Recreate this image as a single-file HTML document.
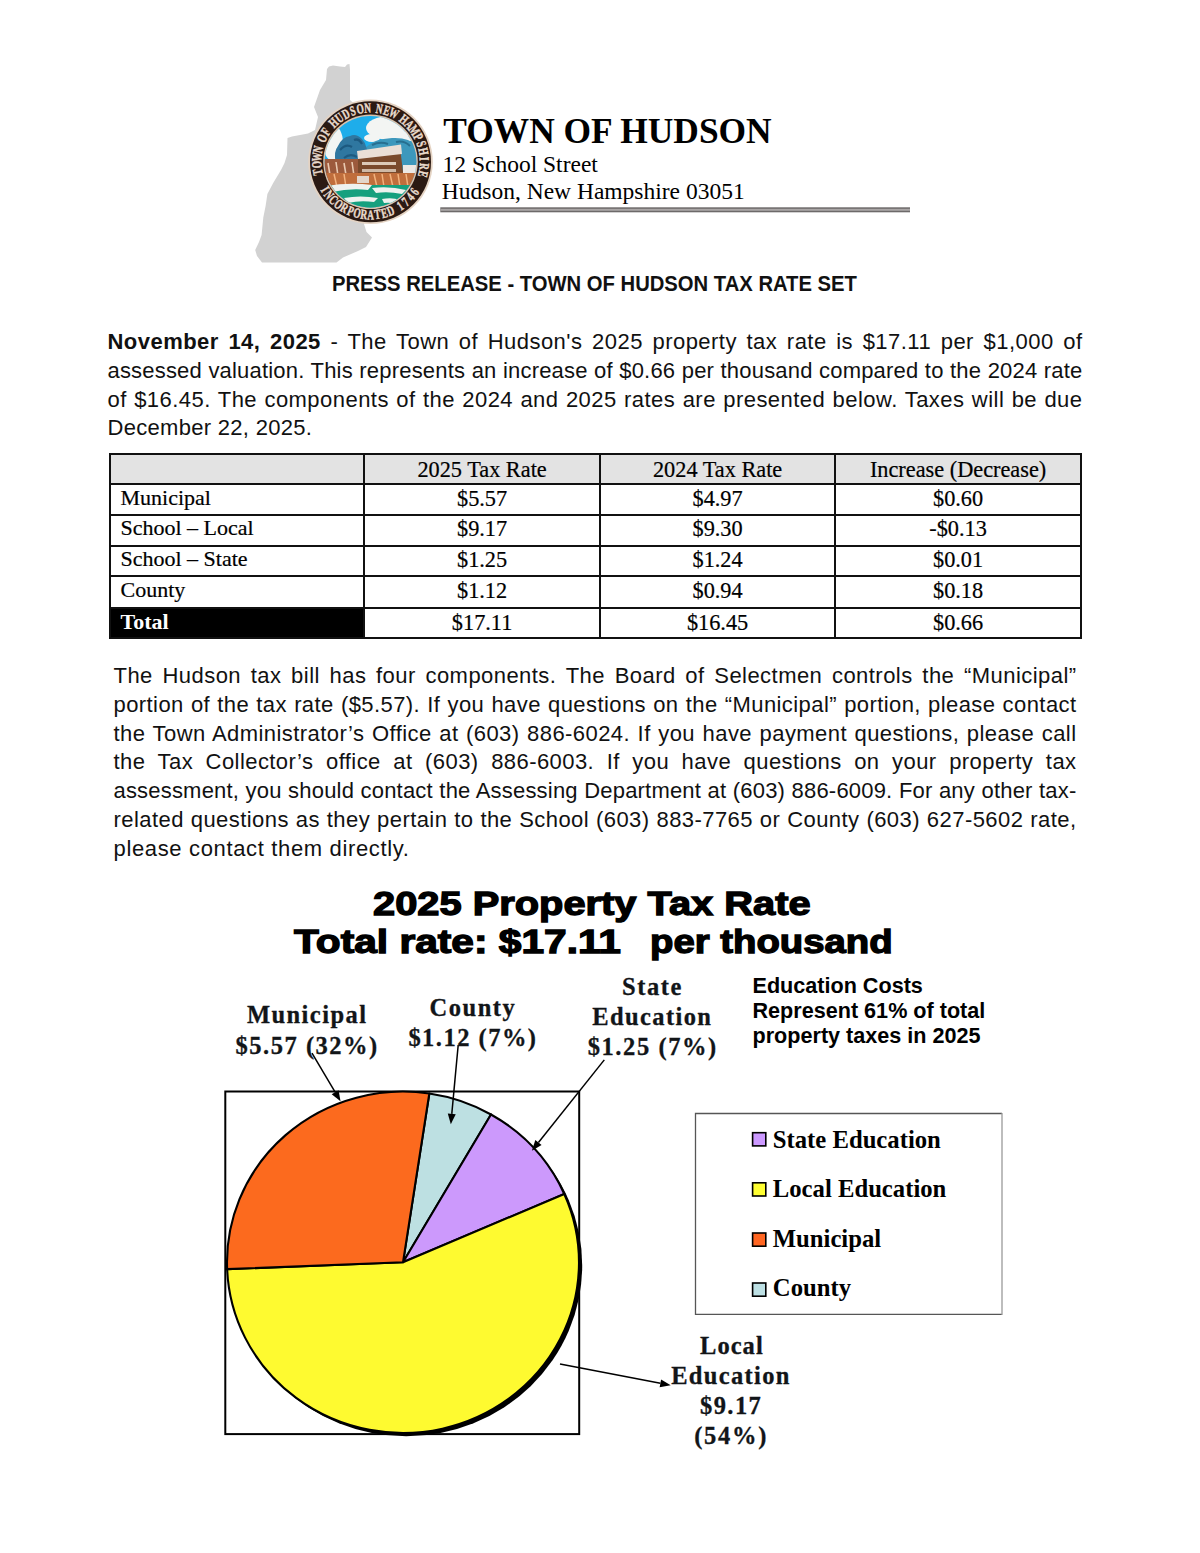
<!DOCTYPE html>
<html><head><meta charset="utf-8"><title>Town of Hudson Press Release</title>
<style>
html,body{margin:0;padding:0;background:#fff;}
body{width:1200px;height:1553px;position:relative;overflow:hidden;}
.t{position:absolute;white-space:nowrap;}
.b{position:absolute;}
.g{position:absolute;left:0;top:0;}
b{font-weight:700;}
</style></head><body>
<svg class="g" width="1200" height="1553" viewBox="0 0 1200 1553"><polygon fill="#d2d2d2" points="327,69 329,66.5 333,65.5 340,66.5 345,67 347,64.5 349.5,64 350,70 350,100 372,120 372,200 364,224 366.5,232 372,237.5 366,247 358,251 343,257.5 336.5,262.6 262,262.6 257,256 255.2,250 259,242 261.6,235 263.3,217.5 265.6,206 267.4,194 273.2,183 281,170 284.5,163 287,155 287.5,138 292,136.5 308,133.5 315,130 318,117 314,107 320,90 326,80"/><circle cx="370.5" cy="161.8" r="62.3" fill="#e4d3c3"/><circle cx="370.5" cy="161.8" r="60.5" fill="#2b1a13"/><circle cx="370.5" cy="161.8" r="47.3" fill="#d9c2ad"/><clipPath id="sc"><circle cx="370.5" cy="161.8" r="45.8"/></clipPath><g clip-path="url(#sc)"><rect x="320.5" y="111.80000000000001" width="100" height="100" fill="#1eadea"/><ellipse cx="333" cy="143" rx="10" ry="18" fill="#f3f5f3"/><ellipse cx="390" cy="128" rx="24" ry="12" fill="#f3f5f3"/><ellipse cx="372" cy="138" rx="8" ry="4" fill="#f3f5f3"/><ellipse cx="405" cy="137" rx="10" ry="5" fill="#f3f5f3"/><path d="M366 147 Q374 139 392 138 Q410 137 418 147 L418 168 L366 168Z" fill="#3d98bc"/><path d="M372 145 Q380 141 388 144 M396 142 Q404 140 410 146" stroke="#276f90" stroke-width="2" fill="none"/><path d="M336 163 Q333 152 338 146 Q342 137 350 136 Q356 133 362 139 Q369 146 367 164 Z" fill="#2f77a0"/><path d="M340 150 Q346 143 352 147 M354 140 Q359 138 362 144 M344 158 Q350 153 357 157" stroke="#1d5a80" stroke-width="2.2" fill="none"/><rect x="318" y="159" width="42" height="30" fill="#9c5a3c"/><path d="M328 163 L330 175 M336 162 L338 176 M344 163 L346 175 M352 162 L354 176" stroke="#e9c9b0" stroke-width="1.6"/><path d="M358 154 L400 147 L404 180 L358 181Z" fill="#7a4a2c"/><path d="M357 151 L401 144.5 L402 154 L358 159Z" fill="#eadfd6"/><rect x="362" y="162" width="34" height="3" fill="#dccab8"/><rect x="362" y="169" width="34" height="3" fill="#cfb9a6"/><rect x="403" y="165" width="14" height="8" fill="#ece8e4"/><rect x="318" y="173" width="104" height="14" fill="#c06e3c"/><path d="M324 174 L327 187 M334 174 L337 187 M344 174 L346 187 M374 174 L377 187 M382 174 L384 187 M390 174 L393 187 M398 174 L400 187 M406 174 L408 187" stroke="#f2b27e" stroke-width="1.5"/><rect x="357" y="176" width="12" height="7" fill="#e3d6ca"/><rect x="315" y="185" width="110" height="30" fill="#16a07e"/><path d="M326 186 Q350 182 372 185 L368 190 Q350 188 332 192Z" fill="#eef2ef"/><path d="M372 188 Q390 186 406 190 L402 194 Q388 191 376 193Z" fill="#eef2ef"/><path d="M344 198 Q360 195 378 198 L374 202 Q360 200 348 203Z" fill="#eef2ef"/><path d="M382 199 Q392 197 400 200 L396 204 Q390 202 384 203Z" fill="#eef2ef"/></g><g font-family="'Liberation Serif', serif" font-weight="700" font-size="13.8" fill="#e9dbcd" stroke="#e9dbcd" stroke-width="0.45"><text transform="translate(322.11,171.21) rotate(-101.00) scale(0.67,1)" text-anchor="middle">T</text><text transform="translate(321.26,164.30) rotate(-92.90) scale(0.67,1)" text-anchor="middle">O</text><text transform="translate(321.40,157.34) rotate(-84.81) scale(0.67,1)" text-anchor="middle">W</text><text transform="translate(322.52,150.47) rotate(-76.71) scale(0.67,1)" text-anchor="middle">N</text><text transform="translate(326.13,140.32) rotate(-64.17) scale(0.67,1)" text-anchor="middle">O</text><text transform="translate(329.59,134.28) rotate(-56.07) scale(0.67,1)" text-anchor="middle">F</text><text transform="translate(336.55,126.05) rotate(-43.52) scale(0.67,1)" text-anchor="middle">H</text><text transform="translate(341.92,121.63) rotate(-35.43) scale(0.67,1)" text-anchor="middle">U</text><text transform="translate(347.86,118.00) rotate(-27.33) scale(0.67,1)" text-anchor="middle">D</text><text transform="translate(354.26,115.25) rotate(-19.24) scale(0.67,1)" text-anchor="middle">S</text><text transform="translate(360.97,113.43) rotate(-11.14) scale(0.67,1)" text-anchor="middle">O</text><text transform="translate(367.88,112.57) rotate(-3.05) scale(0.67,1)" text-anchor="middle">N</text><text transform="translate(378.64,113.18) rotate(9.50) scale(0.67,1)" text-anchor="middle">N</text><text transform="translate(385.40,114.81) rotate(17.60) scale(0.67,1)" text-anchor="middle">E</text><text transform="translate(391.87,117.37) rotate(25.69) scale(0.67,1)" text-anchor="middle">W</text><text transform="translate(401.01,123.08) rotate(38.24) scale(0.67,1)" text-anchor="middle">H</text><text transform="translate(406.16,127.76) rotate(46.33) scale(0.67,1)" text-anchor="middle">A</text><text transform="translate(410.60,133.12) rotate(54.43) scale(0.67,1)" text-anchor="middle">M</text><text transform="translate(414.24,139.05) rotate(62.52) scale(0.67,1)" text-anchor="middle">P</text><text transform="translate(417.01,145.44) rotate(70.62) scale(0.67,1)" text-anchor="middle">S</text><text transform="translate(418.85,152.15) rotate(78.71) scale(0.67,1)" text-anchor="middle">H</text><text transform="translate(419.72,159.06) rotate(86.81) scale(0.67,1)" text-anchor="middle">I</text><text transform="translate(419.62,166.02) rotate(94.90) scale(0.67,1)" text-anchor="middle">R</text><text transform="translate(418.54,172.89) rotate(103.00) scale(0.67,1)" text-anchor="middle">E</text></g><g font-family="'Liberation Serif', serif" font-weight="700" font-size="13.8" fill="#e9dbcd" stroke="#e9dbcd" stroke-width="0.45"><text transform="translate(321.13,191.47) rotate(59.00) scale(0.67,1)" text-anchor="middle">I</text><text transform="translate(325.36,197.57) rotate(51.60) scale(0.67,1)" text-anchor="middle">N</text><text transform="translate(330.34,203.09) rotate(44.21) scale(0.67,1)" text-anchor="middle">C</text><text transform="translate(335.99,207.91) rotate(36.81) scale(0.67,1)" text-anchor="middle">O</text><text transform="translate(342.21,211.97) rotate(29.42) scale(0.67,1)" text-anchor="middle">R</text><text transform="translate(348.90,215.20) rotate(22.02) scale(0.67,1)" text-anchor="middle">P</text><text transform="translate(355.95,217.53) rotate(14.63) scale(0.67,1)" text-anchor="middle">O</text><text transform="translate(363.25,218.94) rotate(7.23) scale(0.67,1)" text-anchor="middle">R</text><text transform="translate(370.66,219.40) rotate(-0.16) scale(0.67,1)" text-anchor="middle">A</text><text transform="translate(378.08,218.90) rotate(-7.56) scale(0.67,1)" text-anchor="middle">T</text><text transform="translate(385.36,217.45) rotate(-14.95) scale(0.67,1)" text-anchor="middle">E</text><text transform="translate(392.40,215.07) rotate(-22.35) scale(0.67,1)" text-anchor="middle">D</text><text transform="translate(402.55,209.66) rotate(-33.81) scale(0.67,1)" text-anchor="middle">1</text><text transform="translate(408.45,205.13) rotate(-41.21) scale(0.67,1)" text-anchor="middle">7</text><text transform="translate(413.71,199.89) rotate(-48.60) scale(0.67,1)" text-anchor="middle">4</text><text transform="translate(418.25,194.01) rotate(-56.00) scale(0.67,1)" text-anchor="middle">6</text></g><rect x="440.3" y="207.3" width="469.7" height="5" fill="#6d6a6a"/><rect x="440.3" y="208.8" width="469.7" height="2" fill="#aaa6a6"/><rect x="225.3" y="1091.5" width="353.9" height="342.6" fill="none" stroke="#000" stroke-width="2"/><ellipse cx="406.2" cy="1265.5" rx="176.0" ry="170.7" fill="#000"/><path d="M403.0,1262.3 L429.32,1093.52 A176.0,170.7 0 0 1 491.00,1114.47 Z" fill="#bde0e2" stroke="#000" stroke-width="2.1" stroke-linejoin="round"/><path d="M403.0,1262.3 L491.00,1114.47 A176.0,170.7 0 0 1 564.28,1193.96 Z" fill="#cc99fc" stroke="#000" stroke-width="2.1" stroke-linejoin="round"/><path d="M403.0,1262.3 L564.28,1193.96 A176.0,170.7 0 1 1 227.14,1269.15 Z" fill="#fefa30" stroke="#000" stroke-width="2.1" stroke-linejoin="round"/><path d="M403.0,1262.3 L227.14,1269.15 A176.0,170.7 0 0 1 429.32,1093.52 Z" fill="#fc6a1e" stroke="#000" stroke-width="2.1" stroke-linejoin="round"/><line x1="312.0" y1="1053.2" x2="335.14" y2="1092.17" stroke="#000" stroke-width="1.5"/><polygon points="340.5,1101.2 331.70,1094.21 338.58,1090.13" fill="#000"/><line x1="458.2" y1="1045.0" x2="451.78" y2="1113.85" stroke="#000" stroke-width="1.5"/><polygon points="450.8,1124.3 447.79,1113.47 455.76,1114.22" fill="#000"/><line x1="604.3" y1="1059.9" x2="538.44" y2="1142.59" stroke="#000" stroke-width="1.5"/><polygon points="531.9,1150.8 535.31,1140.09 541.57,1145.08" fill="#000"/><line x1="560.0" y1="1364.0" x2="660.39" y2="1383.32" stroke="#000" stroke-width="1.5"/><polygon points="670.7,1385.3 659.63,1387.24 661.14,1379.39" fill="#000"/><path d="M1002 1113.5 L695.5 1113.5 L695.5 1314.3 L1002 1314.3" fill="none" stroke="#565656" stroke-width="1.3"/><line x1="1002" y1="1112.9" x2="1002" y2="1314.9" stroke="#9a9a9a" stroke-width="1.3"/><rect x="752.6" y="1132.7" width="13.2" height="13.2" fill="#cc99ff" stroke="#000" stroke-width="1.6"/><rect x="752.6" y="1182.8" width="13.2" height="13.2" fill="#ffff33" stroke="#000" stroke-width="1.6"/><rect x="752.6" y="1233.0" width="13.2" height="13.2" fill="#ff6622" stroke="#000" stroke-width="1.6"/><rect x="752.6" y="1283.0" width="13.2" height="13.2" fill="#bde0e4" stroke="#000" stroke-width="1.6"/></svg>
<div class="t" style="left:443.30px;top:113.55px;font-family:'Liberation Serif', serif;font-size:35.4px;line-height:35.4px;font-weight:700;color:#000;">TOWN OF HUDSON</div><div class="t" style="left:442.50px;top:153.32px;font-family:'Liberation Serif', serif;font-size:23.5px;line-height:23.5px;font-weight:400;color:#000;">12 School Street</div><div class="t" style="left:441.80px;top:180.32px;font-family:'Liberation Serif', serif;font-size:23.5px;line-height:23.5px;font-weight:400;color:#000;">Hudson, New Hampshire 03051</div><div class="t" style="left:331.70px;top:274.00px;font-family:'Liberation Sans', sans-serif;font-size:21.5px;line-height:21.5px;font-weight:700;color:#111;transform:scaleX(0.941);transform-origin:0 0;">PRESS RELEASE - TOWN OF HUDSON TAX RATE SET</div><div class="t" style="left:107.50px;top:331.18px;font-family:'Liberation Sans', sans-serif;font-size:22px;line-height:22px;font-weight:400;color:#111;width:975.00px;text-align:justify;text-align-last:justify;white-space:nowrap;letter-spacing:0.46px;"><b>November 14, 2025</b> - The Town of Hudson's 2025 property tax rate is $17.11 per $1,000 of</div><div class="t" style="left:107.50px;top:359.98px;font-family:'Liberation Sans', sans-serif;font-size:22px;line-height:22px;font-weight:400;color:#111;width:975.00px;text-align:justify;text-align-last:justify;white-space:nowrap;letter-spacing:0.19px;">assessed valuation. This represents an increase of $0.66 per thousand compared to the 2024 rate</div><div class="t" style="left:107.50px;top:388.68px;font-family:'Liberation Sans', sans-serif;font-size:22px;line-height:22px;font-weight:400;color:#111;width:975.00px;text-align:justify;text-align-last:justify;white-space:nowrap;letter-spacing:0.46px;">of $16.45. The components of the 2024 and 2025 rates are presented below. Taxes will be due</div><div class="t" style="left:107.50px;top:417.48px;font-family:'Liberation Sans', sans-serif;font-size:22px;line-height:22px;font-weight:400;color:#111;white-space:nowrap;letter-spacing:0.3px;">December 22, 2025.</div><div class="t" style="left:113.50px;top:665.28px;font-family:'Liberation Sans', sans-serif;font-size:22px;line-height:22px;font-weight:400;color:#111;width:963.00px;text-align:justify;text-align-last:justify;white-space:nowrap;letter-spacing:0.45px;">The Hudson tax bill has four components. The Board of Selectmen controls the “Municipal”</div><div class="t" style="left:113.50px;top:693.98px;font-family:'Liberation Sans', sans-serif;font-size:22px;line-height:22px;font-weight:400;color:#111;width:963.00px;text-align:justify;text-align-last:justify;white-space:nowrap;letter-spacing:0.42px;">portion of the tax rate ($5.57). If you have questions on the “Municipal” portion, please contact</div><div class="t" style="left:113.50px;top:722.78px;font-family:'Liberation Sans', sans-serif;font-size:22px;line-height:22px;font-weight:400;color:#111;width:963.00px;text-align:justify;text-align-last:justify;white-space:nowrap;letter-spacing:0.44px;">the Town Administrator’s Office at (603) 886-6024. If you have payment questions, please call</div><div class="t" style="left:113.50px;top:751.48px;font-family:'Liberation Sans', sans-serif;font-size:22px;line-height:22px;font-weight:400;color:#111;width:963.00px;text-align:justify;text-align-last:justify;white-space:nowrap;letter-spacing:0.43px;">the Tax Collector’s office at (603) 886-6003. If you have questions on your property tax</div><div class="t" style="left:113.50px;top:780.18px;font-family:'Liberation Sans', sans-serif;font-size:22px;line-height:22px;font-weight:400;color:#111;width:963.00px;text-align:justify;text-align-last:justify;white-space:nowrap;letter-spacing:0.19px;">assessment, you should contact the Assessing Department at (603) 886-6009. For any other tax-</div><div class="t" style="left:113.50px;top:808.98px;font-family:'Liberation Sans', sans-serif;font-size:22px;line-height:22px;font-weight:400;color:#111;width:963.00px;text-align:justify;text-align-last:justify;white-space:nowrap;letter-spacing:0.44px;">related questions as they pertain to the School (603) 883-7765 or County (603) 627-5602 rate,</div><div class="t" style="left:113.50px;top:837.78px;font-family:'Liberation Sans', sans-serif;font-size:22px;line-height:22px;font-weight:400;color:#111;white-space:nowrap;letter-spacing:0.65px;">please contact them directly.</div><div class="b" style="left:110.2px;top:453.9px;width:970.8px;height:30.1px;background:#e3e3e3"></div><div class="b" style="left:110.2px;top:607.6px;width:254.0px;height:30.4px;background:#000"></div><div class="b" style="left:109.2px;top:452.9px;width:972.8px;height:2.0px;background:#111"></div><div class="b" style="left:109.2px;top:483.0px;width:972.8px;height:2.0px;background:#111"></div><div class="b" style="left:109.2px;top:514.0px;width:972.8px;height:2.0px;background:#111"></div><div class="b" style="left:109.2px;top:544.7px;width:972.8px;height:2.0px;background:#111"></div><div class="b" style="left:109.2px;top:575.2px;width:972.8px;height:2.0px;background:#111"></div><div class="b" style="left:109.2px;top:606.6px;width:972.8px;height:2.0px;background:#111"></div><div class="b" style="left:109.2px;top:637.0px;width:972.8px;height:2.0px;background:#111"></div><div class="b" style="left:109.2px;top:452.9px;width:2.0px;height:186.1px;background:#111"></div><div class="b" style="left:363.2px;top:452.9px;width:2.0px;height:186.1px;background:#111"></div><div class="b" style="left:599.0px;top:452.9px;width:2.0px;height:186.1px;background:#111"></div><div class="b" style="left:834.2px;top:452.9px;width:2.0px;height:186.1px;background:#111"></div><div class="b" style="left:1080.0px;top:452.9px;width:2.0px;height:186.1px;background:#111"></div><div class="t" style="left:364.20px;top:458.82px;font-family:'Liberation Serif', serif;font-size:22.3px;line-height:22.3px;font-weight:400;color:#000;width:235.80px;text-align:center;-webkit-text-stroke:0.2px #000;">2025 Tax Rate</div><div class="t" style="left:600.00px;top:458.82px;font-family:'Liberation Serif', serif;font-size:22.3px;line-height:22.3px;font-weight:400;color:#000;width:235.20px;text-align:center;-webkit-text-stroke:0.2px #000;">2024 Tax Rate</div><div class="t" style="left:835.20px;top:458.82px;font-family:'Liberation Serif', serif;font-size:22.3px;line-height:22.3px;font-weight:400;color:#000;width:245.80px;text-align:center;-webkit-text-stroke:0.2px #000;">Increase (Decrease)</div><div class="t" style="left:120.50px;top:487.18px;font-family:'Liberation Serif', serif;font-size:22.0px;line-height:22.0px;font-weight:400;color:#000;-webkit-text-stroke:0.2px #000;">Municipal</div><div class="t" style="left:364.20px;top:488.42px;font-family:'Liberation Serif', serif;font-size:22.3px;line-height:22.3px;font-weight:400;color:#000;width:235.80px;text-align:center;-webkit-text-stroke:0.2px #000;">$5.57</div><div class="t" style="left:600.00px;top:488.42px;font-family:'Liberation Serif', serif;font-size:22.3px;line-height:22.3px;font-weight:400;color:#000;width:235.20px;text-align:center;-webkit-text-stroke:0.2px #000;">$4.97</div><div class="t" style="left:835.20px;top:488.42px;font-family:'Liberation Serif', serif;font-size:22.3px;line-height:22.3px;font-weight:400;color:#000;width:245.80px;text-align:center;-webkit-text-stroke:0.2px #000;">$0.60</div><div class="t" style="left:120.50px;top:516.78px;font-family:'Liberation Serif', serif;font-size:22.0px;line-height:22.0px;font-weight:400;color:#000;-webkit-text-stroke:0.2px #000;">School – Local</div><div class="t" style="left:364.20px;top:518.02px;font-family:'Liberation Serif', serif;font-size:22.3px;line-height:22.3px;font-weight:400;color:#000;width:235.80px;text-align:center;-webkit-text-stroke:0.2px #000;">$9.17</div><div class="t" style="left:600.00px;top:518.02px;font-family:'Liberation Serif', serif;font-size:22.3px;line-height:22.3px;font-weight:400;color:#000;width:235.20px;text-align:center;-webkit-text-stroke:0.2px #000;">$9.30</div><div class="t" style="left:835.20px;top:518.02px;font-family:'Liberation Serif', serif;font-size:22.3px;line-height:22.3px;font-weight:400;color:#000;width:245.80px;text-align:center;-webkit-text-stroke:0.2px #000;">-$0.13</div><div class="t" style="left:120.50px;top:547.78px;font-family:'Liberation Serif', serif;font-size:22.0px;line-height:22.0px;font-weight:400;color:#000;-webkit-text-stroke:0.2px #000;">School – State</div><div class="t" style="left:364.20px;top:549.02px;font-family:'Liberation Serif', serif;font-size:22.3px;line-height:22.3px;font-weight:400;color:#000;width:235.80px;text-align:center;-webkit-text-stroke:0.2px #000;">$1.25</div><div class="t" style="left:600.00px;top:549.02px;font-family:'Liberation Serif', serif;font-size:22.3px;line-height:22.3px;font-weight:400;color:#000;width:235.20px;text-align:center;-webkit-text-stroke:0.2px #000;">$1.24</div><div class="t" style="left:835.20px;top:549.02px;font-family:'Liberation Serif', serif;font-size:22.3px;line-height:22.3px;font-weight:400;color:#000;width:245.80px;text-align:center;-webkit-text-stroke:0.2px #000;">$0.01</div><div class="t" style="left:120.50px;top:578.78px;font-family:'Liberation Serif', serif;font-size:22.0px;line-height:22.0px;font-weight:400;color:#000;-webkit-text-stroke:0.2px #000;">County</div><div class="t" style="left:364.20px;top:580.02px;font-family:'Liberation Serif', serif;font-size:22.3px;line-height:22.3px;font-weight:400;color:#000;width:235.80px;text-align:center;-webkit-text-stroke:0.2px #000;">$1.12</div><div class="t" style="left:600.00px;top:580.02px;font-family:'Liberation Serif', serif;font-size:22.3px;line-height:22.3px;font-weight:400;color:#000;width:235.20px;text-align:center;-webkit-text-stroke:0.2px #000;">$0.94</div><div class="t" style="left:835.20px;top:580.02px;font-family:'Liberation Serif', serif;font-size:22.3px;line-height:22.3px;font-weight:400;color:#000;width:245.80px;text-align:center;-webkit-text-stroke:0.2px #000;">$0.18</div><div class="t" style="left:120.50px;top:610.98px;font-family:'Liberation Serif', serif;font-size:22.0px;line-height:22.0px;font-weight:700;color:#fff;">Total</div><div class="t" style="left:364.20px;top:612.22px;font-family:'Liberation Serif', serif;font-size:22.3px;line-height:22.3px;font-weight:400;color:#000;width:235.80px;text-align:center;-webkit-text-stroke:0.2px #000;">$17.11</div><div class="t" style="left:600.00px;top:612.22px;font-family:'Liberation Serif', serif;font-size:22.3px;line-height:22.3px;font-weight:400;color:#000;width:235.20px;text-align:center;-webkit-text-stroke:0.2px #000;">$16.45</div><div class="t" style="left:835.20px;top:612.22px;font-family:'Liberation Serif', serif;font-size:22.3px;line-height:22.3px;font-weight:400;color:#000;width:245.80px;text-align:center;-webkit-text-stroke:0.2px #000;">$0.66</div><div class="t" style="left:373.30px;top:886.57px;font-family:'Liberation Sans', sans-serif;font-size:33px;line-height:33px;font-weight:700;color:#000;-webkit-text-stroke:1.3px #000;white-space:pre;transform:scaleX(1.207);transform-origin:0 0;">2025 Property Tax Rate</div><div class="t" style="left:294.20px;top:925.27px;font-family:'Liberation Sans', sans-serif;font-size:33px;line-height:33px;font-weight:700;color:#000;-webkit-text-stroke:1.3px #000;white-space:pre;transform:scaleX(1.232);transform-origin:0 0;">Total rate: $17.11</div><div class="t" style="left:649.50px;top:925.27px;font-family:'Liberation Sans', sans-serif;font-size:33px;line-height:33px;font-weight:700;color:#000;-webkit-text-stroke:1.3px #000;white-space:pre;transform:scaleX(1.161);transform-origin:0 0;">per thousand</div><div class="t" style="left:752.50px;top:974.92px;font-family:'Liberation Sans', sans-serif;font-size:21.6px;line-height:21.6px;font-weight:700;color:#000;white-space:nowrap;">Education Costs</div><div class="t" style="left:752.50px;top:1000.42px;font-family:'Liberation Sans', sans-serif;font-size:21.6px;line-height:21.6px;font-weight:700;color:#000;white-space:nowrap;">Represent 61% of total</div><div class="t" style="left:752.50px;top:1025.42px;font-family:'Liberation Sans', sans-serif;font-size:21.6px;line-height:21.6px;font-weight:700;color:#000;white-space:nowrap;">property taxes in 2025</div><div class="t" style="left:246.90px;top:1003.28px;font-family:'Liberation Serif', serif;font-size:24.5px;line-height:24.5px;font-weight:700;color:#121518;letter-spacing:1.44px;white-space:nowrap;-webkit-text-stroke:0.3px #121518;">Municipal</div><div class="t" style="left:235.60px;top:1034.38px;font-family:'Liberation Serif', serif;font-size:24.5px;line-height:24.5px;font-weight:700;color:#121518;letter-spacing:1.51px;white-space:nowrap;-webkit-text-stroke:0.3px #121518;">$5.57 (32%)</div><div class="t" style="left:429.60px;top:996.18px;font-family:'Liberation Serif', serif;font-size:24.5px;line-height:24.5px;font-weight:700;color:#121518;letter-spacing:1.50px;white-space:nowrap;-webkit-text-stroke:0.3px #121518;">County</div><div class="t" style="left:408.40px;top:1025.88px;font-family:'Liberation Serif', serif;font-size:24.5px;line-height:24.5px;font-weight:700;color:#121518;letter-spacing:1.48px;white-space:nowrap;-webkit-text-stroke:0.3px #121518;">$1.12 (7%)</div><div class="t" style="left:622.00px;top:975.18px;font-family:'Liberation Serif', serif;font-size:24.5px;line-height:24.5px;font-weight:700;color:#121518;letter-spacing:1.56px;white-space:nowrap;-webkit-text-stroke:0.3px #121518;">State</div><div class="t" style="left:592.30px;top:1004.93px;font-family:'Liberation Serif', serif;font-size:24.5px;line-height:24.5px;font-weight:700;color:#121518;letter-spacing:1.39px;white-space:nowrap;-webkit-text-stroke:0.3px #121518;">Education</div><div class="t" style="left:587.70px;top:1034.68px;font-family:'Liberation Serif', serif;font-size:24.5px;line-height:24.5px;font-weight:700;color:#121518;letter-spacing:1.58px;white-space:nowrap;-webkit-text-stroke:0.3px #121518;">$1.25 (7%)</div><div class="t" style="left:700.00px;top:1333.68px;font-family:'Liberation Serif', serif;font-size:24.5px;line-height:24.5px;font-weight:700;color:#121518;letter-spacing:1.04px;white-space:nowrap;-webkit-text-stroke:0.3px #121518;">Local</div><div class="t" style="left:671.20px;top:1364.28px;font-family:'Liberation Serif', serif;font-size:24.5px;line-height:24.5px;font-weight:700;color:#121518;letter-spacing:1.34px;white-space:nowrap;-webkit-text-stroke:0.3px #121518;">Education</div><div class="t" style="left:700.00px;top:1393.98px;font-family:'Liberation Serif', serif;font-size:24.5px;line-height:24.5px;font-weight:700;color:#121518;letter-spacing:1.42px;white-space:nowrap;-webkit-text-stroke:0.3px #121518;">$9.17</div><div class="t" style="left:694.20px;top:1423.68px;font-family:'Liberation Serif', serif;font-size:24.5px;line-height:24.5px;font-weight:700;color:#121518;letter-spacing:1.75px;white-space:nowrap;-webkit-text-stroke:0.3px #121518;">(54%)</div><div class="t" style="left:772.80px;top:1127.81px;font-family:'Liberation Serif', serif;font-size:24.7px;line-height:24.7px;font-weight:700;color:#000;white-space:nowrap;">State Education</div><div class="t" style="left:772.80px;top:1177.31px;font-family:'Liberation Serif', serif;font-size:24.7px;line-height:24.7px;font-weight:700;color:#000;white-space:nowrap;">Local Education</div><div class="t" style="left:772.80px;top:1226.81px;font-family:'Liberation Serif', serif;font-size:24.7px;line-height:24.7px;font-weight:700;color:#000;white-space:nowrap;">Municipal</div><div class="t" style="left:772.80px;top:1276.31px;font-family:'Liberation Serif', serif;font-size:24.7px;line-height:24.7px;font-weight:700;color:#000;white-space:nowrap;">County</div>
</body></html>
